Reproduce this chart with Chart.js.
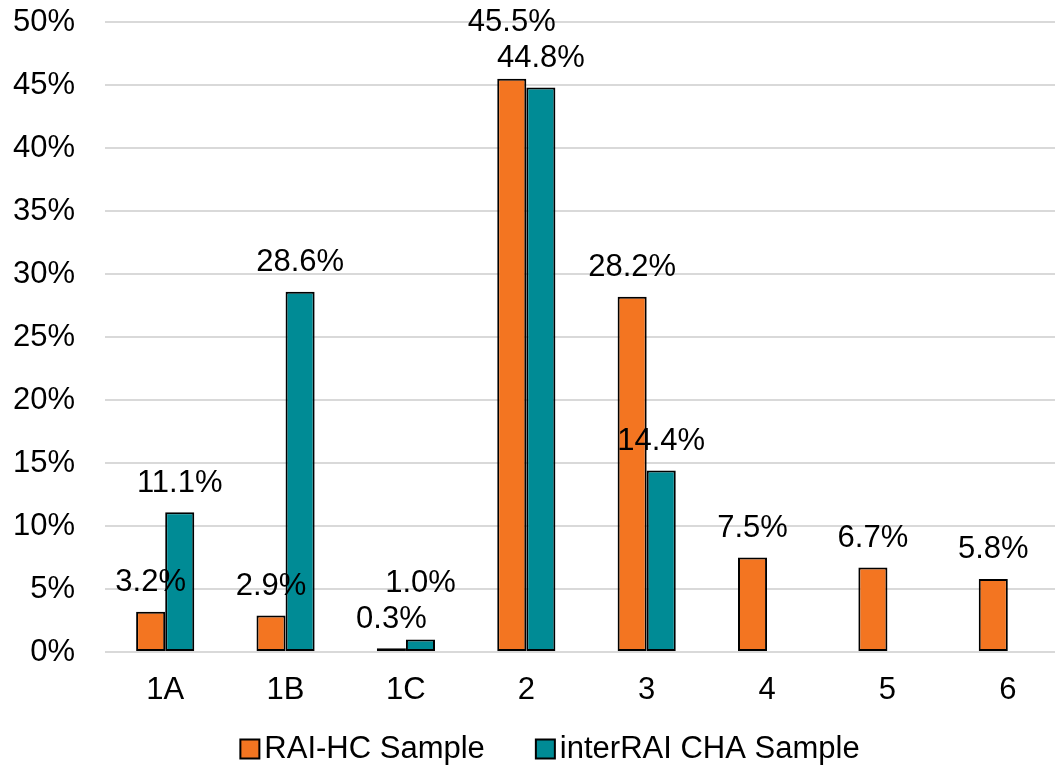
<!DOCTYPE html>
<html>
<head>
<meta charset="utf-8">
<script src="https://cdn.jsdelivr.net/npm/chart.js@4/dist/chart.umd.min.js"></script>
<style>
  html, body { margin: 0; padding: 0; background: #fff; overflow: hidden; }
  #wrap { width: 1068px; height: 766px; }
</style>
</head>
<body>
<div id="wrap"><canvas id="c" width="1068" height="766"></canvas></div>
<script>
const categories = ['1A', '1B', '1C', '2', '3', '4', '5', '6'];
const raiHC = [3.2, 2.9, 0.3, 45.5, 28.2, 7.5, 6.7, 5.8];
const interRAI = [11.1, 28.6, 1.0, 44.8, 14.4, null, null, null];
const seriesNames = ['RAI-HC Sample', 'interRAI CHA Sample'];
const yTicks = [0, 5, 10, 15, 20, 25, 30, 35, 40, 45, 50];

const FONT = '"Liberation Sans", Arial, sans-serif';
const FS = 31;

const labelPlugin = {
  id: 'barLabels',
  afterDatasetsDraw(chart) {
    const ctx = chart.ctx;
    ctx.save();
    ctx.font = FS + 'px ' + FONT;
    ctx.fillStyle = '#000';
    ctx.textAlign = 'center';
    ctx.textBaseline = 'middle';
    const offset = 29;
    const n = chart.data.labels.length;
    for (let i = 0; i < n; i++) {
      const items = [];
      chart.data.datasets.forEach((ds, di) => {
        const v = ds.data[i];
        if (v === null || v === undefined) return;
        const el = chart.getDatasetMeta(di).data[i];
        const text = v.toFixed(1) + '%';
        const w = ctx.measureText(text).width;
        items.push({ x: el.x, y: el.y - offset, w, text });
      });
      for (let a = 0; a < items.length - 1; a++) {
        const p = items[a], q = items[a + 1];
        const overlapX = Math.abs(p.x - q.x) < (p.w + q.w) / 2;
        const overlapY = Math.abs(p.y - q.y) < FS;
        if (overlapX && overlapY) {
          if (p.y <= q.y) p.y = q.y - FS - 5; else q.y = p.y - FS - 5;
        }
      }
      items.forEach(it => ctx.fillText(it.text, it.x, it.y));
    }
    ctx.restore();
  }
};

// Legend drawn under the plot: square swatch + series name
const legendPlugin = {
  id: 'customLegend',
  afterDraw(chart) {
    const ctx = chart.ctx;
    ctx.save();
    ctx.font = FS + 'px ' + FONT;
    ctx.textBaseline = 'middle';
    ctx.textAlign = 'left';
    const box = 19, gapText = 5, gapItem = 51;
    const items = chart.data.datasets.map(ds => ({
      text: ds.label, color: ds.backgroundColor, w: ctx.measureText(ds.label).width
    }));
    const total = items.reduce((s, it) => s + box + gapText + it.w, 0) + gapItem * (items.length - 1);
    const centerX = 550, cy = 749;
    let x = centerX - total / 2;
    items.forEach(it => {
      ctx.fillStyle = it.color;
      ctx.fillRect(x, cy - box / 2, box, box);
      ctx.strokeStyle = '#000';
      ctx.lineWidth = 2;
      ctx.strokeRect(x, cy - box / 2, box, box);
      ctx.fillStyle = '#000';
      ctx.fillText(it.text, x + box + gapText, cy);
      x += box + gapText + it.w + gapItem;
    });
    ctx.restore();
  }
};

new Chart(document.getElementById('c'), {
  type: 'bar',
  data: {
    labels: categories,
    datasets: [
      { label: seriesNames[0], data: raiHC, backgroundColor: '#F37521', borderColor: '#000', borderWidth: 2, borderSkipped: false },
      { label: seriesNames[1], data: interRAI, backgroundColor: '#008B95', borderColor: '#000', borderWidth: 2, borderSkipped: false }
    ]
  },
  options: {
    responsive: false,
    animation: false,
    layout: { padding: { top: 22, left: 0, right: 0, bottom: 54 } },
    datasets: { bar: { categoryPercentage: 0.483, barPercentage: 1 } },
    scales: {
      x: {
        grid: { display: false },
        border: { display: false },
        afterFit(axis) { axis.height = 60; axis.paddingTop = 0; axis.paddingBottom = 0; },
        ticks: { color: '#000', font: { family: FONT, size: FS }, padding: 12 }
      },
      y: {
        min: 0, max: 50,
        afterBuildTicks(axis) { axis.ticks = yTicks.map(v => ({ value: v })); },
        afterFit(axis) { axis.width = 105; axis.paddingTop = 0; axis.paddingBottom = 0; },
        grid: { color: '#d9d9d9', lineWidth: 2, drawTicks: false },
        border: { display: false },
        ticks: { color: '#000', font: { family: FONT, size: FS }, padding: 30, callback: v => v + '%' }
      }
    },
    plugins: {
      legend: { display: false },
      tooltip: { enabled: false }
    }
  },
  plugins: [labelPlugin, legendPlugin]
});
</script>
</body>
</html>
